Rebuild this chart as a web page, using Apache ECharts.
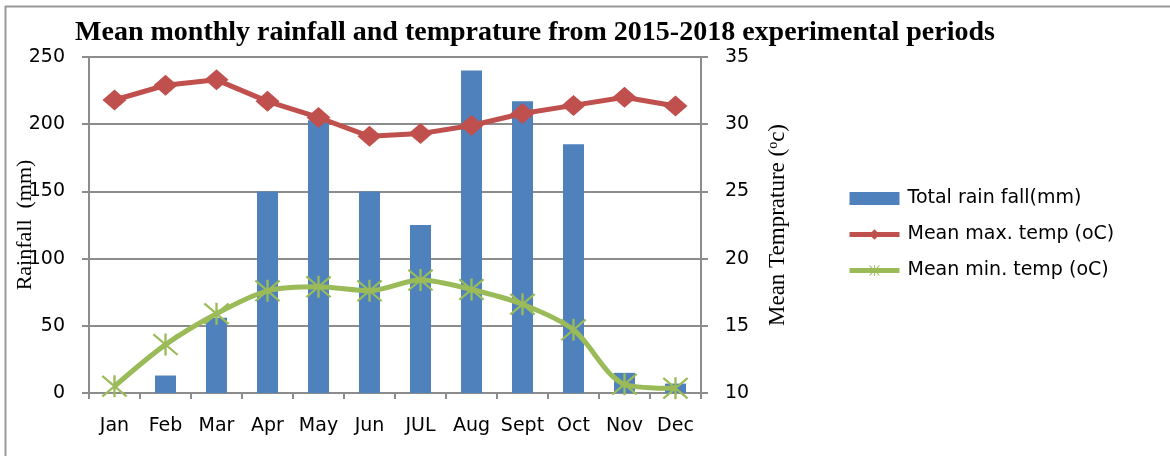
<!DOCTYPE html>
<html>
<head>
<meta charset="utf-8">
<script src="https://cdn.jsdelivr.net/npm/echarts@6/dist/echarts.min.js"></script>
<style>
  html, body { margin: 0; padding: 0; background: #fff; }
  #chart { width: 1170px; height: 456px; }
</style>
</head>
<body>
<div id="chart"></div>
<script>
// 月份
const months = ['Jan', 'Feb', 'Mar', 'Apr', 'May', 'Jun', 'JUL', 'Aug', 'Sept', 'Oct', 'Nov', 'Dec'];
// 降雨量 (mm)
const rainfall = [0, 13, 56, 150, 203, 150, 125, 240, 217, 185, 15, 7];
// 最高温度
const maxTemp = [31.8, 32.9, 33.3, 31.7, 30.5, 29.1, 29.3, 29.9, 30.8, 31.4, 32.0, 31.35];
// 最低温度
const minTemp = [10.5, 13.6, 15.9, 17.6, 17.9, 17.6, 18.4, 17.7, 16.6, 14.7, 10.65, 10.35];

const leftTicks = [0, 250, 50];
const rightTicks = [10, 35, 5];

// asterisk marker
const starPath = 'path://M9.1,0 L10.9,0 L10.9,20 L9.1,20 Z M0,1.3 L1.3,0 L20,18.7 L18.7,20 Z M18.7,0 L20,1.3 L1.3,20 L0,18.7 Z';

const tickFont = { fontFamily: 'DejaVu Sans', fontSize: 19, color: '#000' };
const gridColor = '#8c8c8c';

const option = {
  animation: false,
  backgroundColor: '#fff',
  title: {
    text: 'Mean monthly rainfall and temprature from 2015-2018 experimental periods',
    left: 530,
    textAlign: 'center',
    top: 14,
    textStyle: { fontFamily: 'Liberation Serif', fontWeight: 'bold', fontSize: 28, color: '#000' }
  },
  graphic: [
    { type: 'line', shape: { x1: 5, y1: 6.5, x2: 1170, y2: 6.5 }, style: { stroke: '#999', lineWidth: 2 } },
    { type: 'line', shape: { x1: 5.5, y1: 6, x2: 5.5, y2: 456 }, style: { stroke: '#999', lineWidth: 2 } }
  ],
  legend: {
    orient: 'vertical',
    left: 842,
    top: 184,
    itemWidth: 50,
    itemHeight: 13,
    itemGap: 17,
    textStyle: Object.assign({ padding: [0, 0, 0, 3] }, tickFont),
    data: [
      { name: 'Total rain fall(mm)', icon: 'rect' },
      { name: 'Mean max. temp (oC)', lineStyle: { width: 5 } },
      { name: 'Mean min. temp (oC)', lineStyle: { width: 5 } }
    ]
  },
  grid: { left: 89, right: 469, top: 57, bottom: 63, containLabel: false, outerBoundsMode: 'none' },
  xAxis: {
    type: 'category',
    data: months,
    axisLine: { lineStyle: { color: gridColor, width: 2 } },
    axisTick: { show: true, length: 6, lineStyle: { color: gridColor, width: 2 } },
    axisLabel: Object.assign({ margin: 24, interval: 0 }, tickFont)
  },
  yAxis: [
    {
      type: 'value',
      min: leftTicks[0], max: leftTicks[1], interval: leftTicks[2],
      name: 'Rainfall  (mm)',
      nameLocation: 'middle',
      nameGap: 53,
      nameMoveOverlap: false,
      nameTextStyle: { fontFamily: 'Liberation Serif', fontSize: 22, color: '#000' },
      axisLine: { show: true, lineStyle: { color: gridColor, width: 2 } },
      axisTick: { show: true, length: 7, lineStyle: { color: gridColor, width: 2 } },
      axisLabel: Object.assign({ margin: 24 }, tickFont),
      splitLine: { lineStyle: { color: gridColor, width: 2 } }
    },
    {
      type: 'value',
      min: rightTicks[0], max: rightTicks[1], interval: rightTicks[2],
      name: 'Mean Temprature ({sup|o}c)',
      nameLocation: 'middle',
      nameGap: 65,
      nameRotate: 90,
      nameMoveOverlap: false,
      nameTextStyle: {
        fontFamily: 'Liberation Serif', fontSize: 23, color: '#000',
        rich: { sup: { fontFamily: 'Liberation Serif', fontSize: 14, verticalAlign: 'top', color: '#000', padding: [0, 0, 9, 0] } }
      },
      axisLine: { show: true, lineStyle: { color: gridColor, width: 2 } },
      axisTick: { show: true, length: 7, lineStyle: { color: gridColor, width: 2 } },
      axisLabel: Object.assign({ margin: 24 }, tickFont),
      splitLine: { show: false }
    }
  ],
  series: [
    {
      name: 'Total rain fall(mm)',
      type: 'bar',
      yAxisIndex: 0,
      barWidth: 21,
      itemStyle: { color: '#4F81BD' },
      data: rainfall
    },
    {
      name: 'Mean max. temp (oC)',
      type: 'line',
      yAxisIndex: 1,
      symbol: 'diamond',
      symbolSize: [24, 21],
      lineStyle: { color: '#C0504D', width: 5 },
      itemStyle: { color: '#C0504D' },
      data: maxTemp
    },
    {
      name: 'Mean min. temp (oC)',
      type: 'line',
      yAxisIndex: 1,
      smooth: 0.3,
      symbol: starPath,
      symbolSize: [26, 22],
      lineStyle: { color: '#9BBB59', width: 5 },
      itemStyle: { color: '#9BBB59' },
      data: minTemp
    }
  ]
};

const mychart = echarts.init(document.getElementById('chart'));
mychart.setOption(option);
</script>
</body>
</html>
